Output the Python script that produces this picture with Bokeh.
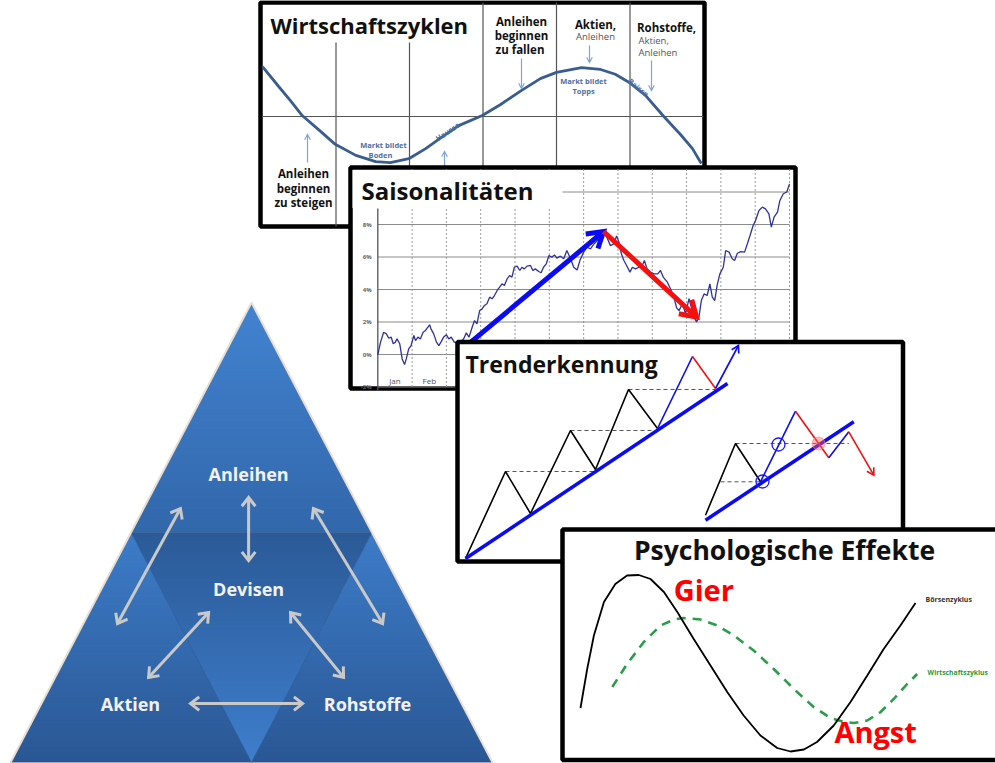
import numpy as np
from bokeh.plotting import figure
from bokeh.models import Range1d
from bokeh.embed import file_html
from bokeh.resources import INLINE
from bokeh.core.properties import value

# ---------------- data ----------------
# Wirtschaftszyklen: cycle curve (x in phase columns 0..6, y in amplitude units)
cycle_x = [0.0, 0.22, 0.38, 0.54, 0.79, 0.99, 1.27, 1.54, 1.74, 1.99, 2.22, 2.43, 2.67,
           2.99, 3.24, 3.52, 3.78, 4.0, 4.34, 4.60, 4.80, 4.99, 5.21, 5.46, 5.69, 5.85, 5.97]
cycle_y = [1.04, 0.625, 0.33, 0.02, -0.31, -0.58, -0.81, -0.94, -0.96, -0.88, -0.67, -0.44, -0.19,
           0.02, 0.25, 0.54, 0.79, 0.92, 1.02, 0.98, 0.88, 0.71, 0.44, 0.0, -0.38, -0.67, -0.98]

# Saisonalitaeten: months (0 = start Jan) and cumulative seasonal return in %
season_month = [0.00, 0.08, 0.17, 0.25, 0.32, 0.39, 0.45, 0.51, 0.56, 0.64, 0.71, 0.78, 0.83, 0.90,
                0.97, 1.05, 1.10, 1.17, 1.24, 1.32, 1.39, 1.46, 1.51, 1.55, 1.63, 1.71, 1.78, 1.84,
                1.92, 2.00, 2.07, 2.14, 2.23, 2.33, 2.41, 2.50, 2.58, 2.66, 2.75, 2.82, 2.89, 2.97,
                3.04, 3.11, 3.18, 3.26, 3.33, 3.40, 3.48, 3.55, 3.62, 3.69, 3.77, 3.84, 3.91, 3.98,
                4.06, 4.14, 4.20, 4.27, 4.35, 4.45, 4.52, 4.59, 4.69, 4.76, 4.83, 4.91, 4.99, 5.07,
                5.15, 5.22, 5.32, 5.42, 5.51, 5.62, 5.71, 5.81, 5.89, 6.00, 6.10, 6.20, 6.30, 6.49,
                6.59, 6.68, 6.78, 6.88, 6.96, 7.03, 7.10, 7.17, 7.27, 7.35, 7.42, 7.51, 7.61, 7.71,
                7.77, 7.85, 7.95, 8.05, 8.16, 8.24, 8.32, 8.44, 8.53, 8.63, 8.71, 8.78, 8.88, 8.97,
                9.07, 9.14, 9.22, 9.29, 9.36, 9.43, 9.51, 9.60, 9.68, 9.75, 9.82, 9.89, 9.97, 10.07,
                10.14, 10.24, 10.33, 10.40, 10.48, 10.58, 10.69, 10.77, 10.85, 10.94, 11.01, 11.11,
                11.21, 11.30, 11.40, 11.47, 11.55, 11.65, 11.72, 11.82, 11.92, 12.00]
season_pct = [0.00, 0.76, 1.37, 1.27, 1.00, 1.07, 0.66, 0.76, 0.96, 0.66, -0.27, -0.62, -0.27, 0.35,
              0.55, 1.17, 0.86, 1.07, 0.96, 1.37, 1.48, 1.68, 1.83, 1.58, 1.27, 0.76, 0.55, 0.76,
              1.07, 1.21, 0.96, 1.07, 0.76, 0.72, 0.80, 0.96, 1.33, 1.07, 1.68, 2.09, 1.89, 2.71,
              2.81, 3.02, 3.12, 3.53, 3.43, 3.63, 3.94, 4.14, 4.35, 4.25, 4.66, 4.86, 4.76, 5.37,
              5.44, 5.17, 5.37, 5.27, 5.44, 5.48, 5.17, 5.27, 5.11, 5.03, 5.37, 5.58, 6.09, 5.99,
              6.13, 5.93, 6.05, 5.89, 6.40, 5.89, 5.37, 5.20, 5.78, 6.30, 6.60, 6.50, 6.80, 7.20,
              7.50, 7.20, 6.70, 6.80, 7.30, 6.91, 6.20, 5.80, 5.40, 5.07, 5.37, 5.27, 5.37, 5.48,
              5.78, 5.27, 5.07, 4.96, 4.96, 5.17, 4.76, 4.45, 4.04, 3.53, 2.87, 2.70, 3.12, 2.50,
              3.43, 2.90, 2.30, 2.00, 2.30, 3.32, 3.73, 3.63, 4.35, 3.53, 3.32, 4.25, 4.96, 5.37,
              6.40, 6.30, 5.89, 5.78, 6.23, 6.33, 6.30, 6.80, 7.32, 7.94, 8.25, 8.86,
              9.07, 8.96, 8.66, 7.84, 8.45, 8.76, 9.48, 9.89, 10.00, 10.50]
season_ticks = [-2, 0, 2, 4, 6, 8]
month_labels = ["Jan", "Feb"]
up_arrow_m, up_arrow_pct = [2.3, 6.58], [0.04, 7.57]
down_arrow_m, down_arrow_pct = [6.58, 9.29], [7.57, 2.30]

# Trenderkennung: zig-zag price swings (t = time units, v = price units)
trend_t = [0, 4, 6.5, 10.5, 13, 16.3, 19.2]
trend_v = [0, 8.7, 4.5, 12.8, 8.9, 16.9, 13.0]
break_up_t, break_up_v = [19.2, 22.7], [13.0, 20.2]
pullback_t, pullback_v = [22.7, 25.0], [20.2, 17.0]
resume_t, resume_v = [25.0, 27.3], [17.0, 21.3]
trendline_t, trendline_v = [0, 26.2], [0, 17.5]
highs_t0 = [4, 10.5, 16.3]
highs_t1 = [13, 19.2, 25.0]
highs_v = [8.7, 12.8, 16.9]
rev_black_t, rev_black_v = [24, 27, 29.5], [4.33, 11.5, 7.67]
rev_up_t, rev_up_v = [29.5, 33], [7.67, 14.73]
rev_dn_t, rev_dn_v = [33, 36.33], [14.73, 10.07]
rev_up2_t, rev_up2_v = [36.33, 38.33], [10.07, 12.67]
rev_dn2_t, rev_dn2_v = [38.33, 40.83], [12.67, 8.33]
rev_trend_t, rev_trend_v = [24, 38.83], [3.83, 13.67]
rev_lvl_t0, rev_lvl_t1, rev_lvl_v = [27, 25.5], [38.33, 29.5], [11.5, 7.67]
rev_circle_t, rev_circle_v = [31.3, 29.7], [11.4, 7.7]
rev_break_t, rev_break_v = [35.3], [11.5]

# Psychologische Effekte
stock_x = [0, 0.2, 0.4, 0.7, 1.04, 1.39, 1.74, 2.09, 2.49, 2.89, 3.38, 3.88, 4.38, 4.87, 5.37,
           5.87, 6.27, 6.67, 7.06, 7.56, 8.06, 8.56, 9.05, 9.55, 10.0]
stock_y = [-1.15, -0.37, 0.3, 0.97, 1.33, 1.5, 1.51, 1.43, 1.17, 0.77, 0.23, -0.3, -0.83, -1.3,
           -1.7, -1.95, -2.02, -1.98, -1.83, -1.5, -1.03, -0.5, 0.03, 0.5, 0.95]
econ_x = [0.95, 1.39, 1.89, 2.39, 2.79, 3.08, 3.58, 4.08, 4.58, 5.17, 5.77, 6.37, 6.96, 7.46,
          7.86, 8.16, 8.56, 8.96, 9.35, 9.75, 10.05]
econ_y = [-0.73, -0.27, 0.17, 0.5, 0.62, 0.65, 0.62, 0.5, 0.3, 0.0, -0.37, -0.77, -1.13, -1.35,
          -1.43, -1.45, -1.4, -1.23, -0.97, -0.67, -0.47]

# Pyramid labels and links
pyr_labels = ["Anleihen", "Devisen", "Aktien", "Rohstoffe"]
pyr_lx = [-0.012, -0.012, -0.502, 0.481]
pyr_ly = [0.628, 0.378, 0.128, 0.128]
link_x0 = [-0.012, -0.295, 0.257, -0.178, 0.162, -0.253]
link_y0 = [0.576, 0.552, 0.552, 0.326, 0.326, 0.128]
link_x1 = [-0.012, -0.556, 0.544, -0.427, 0.382, 0.212]
link_y1 = [0.439, 0.302, 0.302, 0.185, 0.185, 0.128]

# ---------------- figure ----------------
W, H = 995, 763
p = figure(width=W, height=H, x_range=Range1d(0, W), y_range=Range1d(H, 0),
           output_backend="svg", toolbar_location=None, min_border=0,
           x_axis_location=None, y_axis_location=None)
p.outline_line_color = None
p.background_fill_color = "white"
p.border_fill_color = "white"
p.grid.grid_line_color = None
FONT = value("Open Sans")


class Panel:
    def __init__(self, xs, ys, xt, yt):
        self.xs, self.ys, self.xt, self.yt = xs, ys, xt, yt
        self.g = p.subplot(x_source=Range1d(*xs), y_source=Range1d(*ys),
                           x_target=Range1d(*xt), y_target=Range1d(*yt))

    def px(self, x, y):
        X = self.xt[0] + (float(x) - self.xs[0]) * (self.xt[1] - self.xt[0]) / (self.xs[1] - self.xs[0])
        Y = self.yt[0] + (float(y) - self.ys[0]) * (self.yt[1] - self.yt[0]) / (self.ys[1] - self.ys[0])
        return X, Y


def head(tip, tail, L, ang, color, width):
    (x1, y1), (x0, y0) = tip, tail
    d = np.arctan2(y1 - y0, x1 - x0) + np.pi
    a1, a2 = d + np.radians(ang), d - np.radians(ang)
    p.line([x1 + L * np.cos(a1), x1, x1 + L * np.cos(a2)],
           [y1 + L * np.sin(a1), y1, y1 + L * np.sin(a2)],
           line_color=color, line_width=width, line_join="miter", line_cap="butt")


def arrow(panel, xs, ys, color, width, L, ang, both=False):
    panel.g.line(xs, ys, line_color=color, line_width=width)
    a, b = panel.px(xs[0], ys[0]), panel.px(xs[1], ys[1])
    head(b, a, L, ang, color, width)
    if both:
        head(a, b, L, ang, color, width)


def txt(x, y, s, size, color="#111111", bold=True, align="left", baseline="middle", angle=0.0, g=None):
    (g or p).text(x=[x], y=[y], text=[s], text_font=FONT, text_font_size=f"{size}px",
                  text_font_style="bold" if bold else "normal", text_color=color,
                  text_align=align, text_baseline=baseline, angle=angle)


def frame(l, r, t, b):
    p.quad(left=[l], right=[r], top=[t], bottom=[b], fill_color="white",
           line_color="black", line_width=4.5)


def hex2rgb(h):
    return tuple(int(h[i:i + 2], 16) for i in (1, 3, 5))


def mix(c0, c1, t):
    a, b = hex2rgb(c0), hex2rgb(c1)
    return "#%02x%02x%02x" % tuple(int(round(a[i] + (b[i] - a[i]) * t)) for i in range(3))


def grad_tri(g, apex, base_y, base_l, base_r, c_apex, c_base, n=60):
    ax, ay = apex
    xs, ys, cols = [], [], []
    for k in range(n):
        f0, f1 = k / n, min(1.0, (k + 1.8) / n)
        y0, y1 = ay + (base_y - ay) * f0, ay + (base_y - ay) * f1
        xs.append([ax + (base_l - ax) * f0, ax + (base_r - ax) * f0,
                   ax + (base_r - ax) * f1, ax + (base_l - ax) * f1])
        ys.append([y0, y0, y1, y1])
        cols.append(mix(c_apex, c_base, (k + 0.5) / n))
    g.patches(xs, ys, fill_color=cols, line_color=None)


# ---------------- pyramid ----------------
T = Panel((-1, 1), (0, 1), (10, 492), (762, 302))
grad_tri(T.g, (0, 1), 0.5, -0.5, 0.5, "#4283d0", "#3267ab")
grad_tri(T.g, (0, 0), 0.5, -0.5, 0.5, "#3e7ecc", "#2b5a97")
grad_tri(T.g, (-0.5, 0.5), 0.0, -1, 0, "#3d7cc8", "#2a5794")
grad_tri(T.g, (0.5, 0.5), 0.0, 0, 1, "#3d7cc8", "#2a5794")
T.g.multi_line([[-0.5, 0.0, 0.5], [-0.5, 0.5]], [[0.5, 0.0, 0.5], [0.5, 0.5]],
               line_color="#2c5a94", line_width=1, line_alpha=0.7)
T.g.line([-1, 0, 1], [0, 1, 0], line_color="#eadfd0", line_width=2)
for i in range(len(link_x0)):
    arrow(T, [link_x0[i], link_x1[i]], [link_y0[i], link_y1[i]], "#c9c9c9", 3, 11, 38, both=True)
for s, x, y in zip(pyr_labels, pyr_lx, pyr_ly):
    txt(x, y, s, 18, color="#f2f2f2", align="center", g=T.g)

# ---------------- panel 1: Wirtschaftszyklen ----------------
P1 = Panel((0, 6), (-1, 1), (262, 703), (164, 68))
frame(260, 704, 2, 226)
p.multi_line([[335.5, 335.5], [409, 409], [482.5, 482.5], [556, 556], [629.5, 629.5], [262, 703]],
             [[42, 226], [42, 226], [2, 226], [2, 226], [2, 226], [116, 116]],
             line_color="#555555", line_width=1.2)
P1.g.line(cycle_x, cycle_y, line_color="#3a5d8f", line_width=2.8)
txt(270, 24, "Wirtschaftszyklen", 22)
for s, y in zip(["Anleihen", "beginnen", "zu  fallen"], [21, 35, 49]):
    txt(521, y, s, 11.5, align="center")
txt(595, 24, "Aktien,", 11.5, align="center")
txt(595, 36, "Anleihen", 9.5, color="#555555", bold=False, align="center")
txt(666, 27, "Rohstoffe,", 11.5, align="center")
txt(638, 40, "Aktien,", 9.5, color="#555555", bold=False)
txt(638, 52, "Anleihen", 9.5, color="#555555", bold=False)
for s, y in zip(["Anleihen", "beginnen", "zu steigen"], [173, 187.5, 201.5]):
    txt(303, y, s, 11.5, align="center")
BL = "#4d6fa3"
txt(583, 80, "Markt bildet", 7.5, color=BL, align="center")
txt(583, 90, "Topps", 7.5, color=BL, align="center")
txt(383, 144, "Markt bildet", 7.5, color=BL, align="center")
txt(380, 154, "Boden", 7.5, color=BL, align="center")
txt(447, 131, "Hausse", 7.5, color=BL, align="center", angle=0.6)
txt(638, 87, "Baisse", 7.5, color=BL, align="center", angle=-0.68)
LB = "#7fa6d8"
for x, yt, yh in [(521, 58, 88), (589, 45, 62), (651, 60, 90), (307, 162, 134), (444, 172, 151)]:
    p.line([x, x], [yt, yh], line_color=LB, line_width=1.2)
    head((x, yh), (x, yt), 6, 28, LB, 1.2)

# ---------------- panel 2: Saisonalitaeten ----------------
P2 = Panel((0, 12), (0, 8), (377.3, 789), (354, 224))
frame(350, 795, 167, 388)
P2.g.multi_line([[1.0 * m, 1.0 * m] for m in range(1, 13)], [[-2, 11.4]] * 12,
                line_color="#9a9a9a", line_width=1, line_dash="2 2")
P2.g.multi_line([[0, 12]] * 7, [[v, v] for v in range(-2, 12, 2)],
                line_color="#8a8a8a", line_width=1)
p.quad(left=[352], right=[562], top=[169.5], bottom=[207.5], fill_color="white", line_color=None)
P2.g.line([0, 0], [-2.2, 8.98], line_color="#555555", line_width=1.3)
P2.g.text(x=[-0.18] * len(season_ticks), y=season_ticks, text=[f"{v}%" for v in season_ticks],
          text_font=FONT, text_font_size="6px", text_font_style="bold", text_color="#666666",
          text_align="right", text_baseline="middle")
P2.g.text(x=[0.5, 1.5], y=[-1.6, -1.6], text=month_labels, text_font=FONT, text_font_size="8px",
          text_color="#555555", text_align="center", text_baseline="middle")
P2.g.line(season_month, season_pct, line_color="#2f329c", line_width=1.3)
arrow(P2, up_arrow_m, up_arrow_pct, "#0a0af5", 5, 18, 32)
arrow(P2, down_arrow_m, down_arrow_pct, "#f51010", 5, 18, 32)
txt(361, 189.5, "Saisonalitäten", 24)

# ---------------- panel 3: Trenderkennung ----------------
P3 = Panel((0, 10), (0, 10), (465, 565), (558, 458))
frame(457, 902.5, 341.5, 561)
DG = "#555555"
P3.g.multi_line([[a, b] for a, b in zip(highs_t0, highs_t1)], [[v, v] for v in highs_v],
                line_color=DG, line_width=1, line_dash="4 3")
P3.g.multi_line([[a, b] for a, b in zip(rev_lvl_t0, rev_lvl_t1)], [[v, v] for v in rev_lvl_v],
                line_color=DG, line_width=1, line_dash="4 3")
P3.g.line(trend_t, trend_v, line_color="black", line_width=1.6)
P3.g.line(rev_black_t, rev_black_v, line_color="black", line_width=1.6)
P3.g.line(trendline_t, trendline_v, line_color="#0a0af5", line_width=3.5)
P3.g.line(rev_trend_t, rev_trend_v, line_color="#0a0af5", line_width=3.5)
P3.g.line(break_up_t, break_up_v, line_color="#0a0af5", line_width=1.6)
P3.g.line(pullback_t, pullback_v, line_color="#f51010", line_width=1.6)
arrow(P3, resume_t, resume_v, "#0a0af5", 1.6, 8, 30)
P3.g.line(rev_up_t, rev_up_v, line_color="#0a0af5", line_width=1.6)
P3.g.line(rev_dn_t, rev_dn_v, line_color="#f51010", line_width=1.6)
P3.g.line(rev_up2_t, rev_up2_v, line_color="#0a0af5", line_width=1.6)
arrow(P3, rev_dn2_t, rev_dn2_v, "#f51010", 1.6, 8, 30)
P3.g.scatter(rev_circle_t, rev_circle_v, size=13, marker="circle", fill_color=None,
             line_color="#1a1aff", line_width=1.3)
P3.g.scatter(rev_break_t, rev_break_v, size=13, marker="circle", fill_color="#ff6060",
             fill_alpha=0.45, line_color="#ff8080", line_alpha=0.6)
txt(465, 363.5, "Trenderkennung", 23)

# ---------------- panel 4: Psychologische Effekte ----------------
P4 = Panel((0, 10), (0, 1), (580, 915), (650, 600))
frame(562, 1000, 529, 759.5)
P4.g.line(econ_x, econ_y, line_color="#2a9d4a", line_width=2.6, line_dash="9 7")
P4.g.line(stock_x, stock_y, line_color="black", line_width=1.8)
txt(784, 549.5, "Psychologische Effekte", 26.5, align="center")
txt(3.68, 1.22, "Gier", 29, color="#ff0000", align="center", g=P4.g)
txt(8.81, -1.62, "Angst", 29, color="#ff0000", align="center", g=P4.g)
txt(10.3, 1.02, "Börsenzyklus", 7, color="#333333", g=P4.g)
txt(10.36, -0.44, "Wirtschaftszyklus", 6.8, color="#2a9a3a", g=P4.g)

open("out.html", "w").write(file_html(p, INLINE))
